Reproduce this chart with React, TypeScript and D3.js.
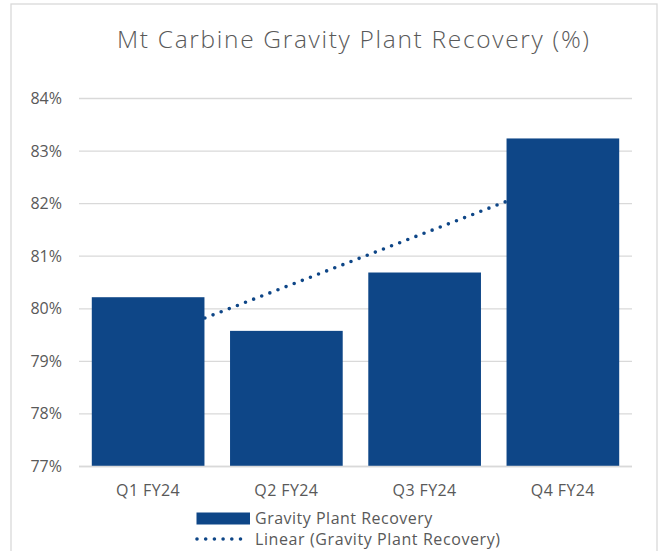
import React from "react";
import * as d3 from "d3";

const categories = ["Q1 FY24", "Q2 FY24", "Q3 FY24", "Q4 FY24"];
const recovery = [80.22, 79.58, 80.69, 83.24];
const yTicks = [77, 78, 79, 80, 81, 82, 83, 84];
const title = "Mt Carbine Gravity Plant Recovery (%)";
const seriesName = "Gravity Plant Recovery";
const trendName = "Linear (Gravity Plant Recovery)";

const W = 663;
const H = 551;
const M = { left: 79, right: 31, top: 98.5, bottom: 84.5 };
const BAR = "#0E4687";
const TEXT = "#595959";
const GRID = "#D9D9D9";

export default function App() {
  const x = d3
    .scaleBand<string>()
    .domain(categories)
    .range([M.left, W - M.right])
    .paddingInner(0.185)
    .paddingOuter(0.0925);
  const y = d3.scaleLinear().domain([77, 84]).range([H - M.bottom, M.top]);

  // linear regression trendline on category index 1..n
  const xs = recovery.map((_, i) => i + 1);
  const mx = d3.mean(xs)!;
  const my = d3.mean(recovery)!;
  const slope =
    d3.sum(xs.map((xi, i) => (xi - mx) * (recovery[i] - my))) /
    d3.sum(xs.map((xi) => (xi - mx) ** 2));
  const intercept = my - slope * mx;
  const center = (i: number) => x(categories[i])! + x.bandwidth() / 2;
  const trendPts: [number, number][] = xs.map((xi, i) => [
    center(i),
    y(intercept + slope * xi),
  ]);
  const trendPath = d3.line()([trendPts[0], trendPts[trendPts.length - 1]])!;

  const font = "'Open Sans', 'Liberation Sans', sans-serif";

  return (
    <svg
      width={W}
      height={H}
      style={{ position: "absolute", left: 0, top: 0, background: "#fff" }}
      fontFamily={font}
    >
      <rect x={11} y={4} width={646} height={H + 10} fill="#fff" stroke={GRID} strokeWidth={1.3} />
      <text
        x={117}
        y={47.5}
        fontSize={24.5}
        fill={TEXT}
        fontWeight={300}
        textLength={472}
        lengthAdjust="spacing"
      >
        {title}
      </text>
      {yTicks.map((t) => (
        <g key={t}>
          <line x1={M.left} x2={W - M.right} y1={y(t)} y2={y(t)} stroke={GRID} strokeWidth={1.3} />
          <text x={62} y={y(t) + 5.5} textAnchor="end" fontSize={16} fill={TEXT}>
            {t}%
          </text>
        </g>
      ))}
      <path
        d={trendPath}
        fill="none"
        stroke={BAR}
        strokeWidth={3.6}
        strokeLinecap="round"
        strokeDasharray="0 8.7"
      />
      {categories.map((c, i) => (
        <rect
          key={c}
          x={x(c)}
          y={y(recovery[i])}
          width={x.bandwidth()}
          height={y(77) - y(recovery[i])}
          fill={BAR}
        />
      ))}
      <line x1={M.left} x2={W - M.right} y1={y(77)} y2={y(77)} stroke={GRID} strokeWidth={1.3} />
      {categories.map((c, i) => (
        <text
          key={c}
          x={center(i)}
          y={496}
          textAnchor="middle"
          fontSize={16}
          fill={TEXT}
          letterSpacing={0.4}
        >
          {c}
        </text>
      ))}
      <rect x={196.5} y={512.5} width={53.5} height={12} fill={BAR} />
      <text x={255} y={524} fontSize={16} fill={TEXT} letterSpacing={0.5}>
        {seriesName}
      </text>
      <line
        x1={197}
        x2={247}
        y1={539}
        y2={539}
        stroke={BAR}
        strokeWidth={3.6}
        strokeLinecap="round"
        strokeDasharray="0 8.7"
      />
      <text x={255} y={544.5} fontSize={16} fill={TEXT} letterSpacing={0.6}>
        {trendName}
      </text>
    </svg>
  );
}
